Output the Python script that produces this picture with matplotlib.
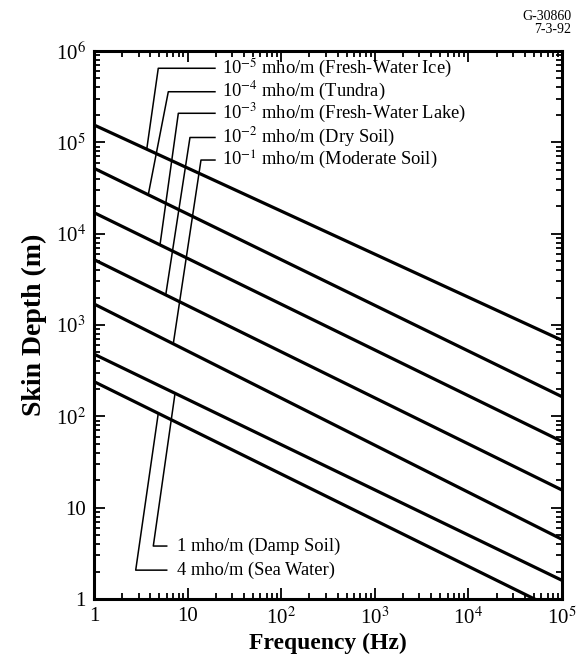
import numpy as np
import matplotlib.pyplot as plt

plt.rcParams['font.family'] = ['Liberation Serif', 'DejaVu Serif']
plt.rcParams['mathtext.fontset'] = 'stix'

# frequency end points (Hz) and skin depth (m) read at those ends
freq = [1, 1e5]
depth_ice = [1.55e5, 680]
depth_tundra = [5.2e4, 164]
depth_lake = [1.7e4, 53]
depth_dry = [5.2e3, 15.6]
depth_moderate = [1.7e3, 4.5]
depth_damp = [480, 1.6]
depth_sea = [240, 0.71]

series = [depth_ice, depth_tundra, depth_lake, depth_dry,
          depth_moderate, depth_damp, depth_sea]
labels = [r'10$^{-5}$ mho/m (Fresh-Water Ice)',
          r'10$^{-4}$ mho/m (Tundra)',
          r'10$^{-3}$ mho/m (Fresh-Water Lake)',
          r'10$^{-2}$ mho/m (Dry Soil)',
          r'10$^{-1}$ mho/m (Moderate Soil)',
          '1 mho/m (Damp Soil)',
          '4 mho/m (Sea Water)']

# leader layout: label height, corner frequency, frequency where leader meets its line
label_y = [6.47e5, 3.58e5, 2.08e5, 1.13e5, 6.4e4, 3.8, 2.07]
corner_f = [4.86, 6.22, 7.96, 10.6, 13.9, 4.3, 2.79]
touch_f = [3.66, 3.8, 5.07, 5.84, 7.03, 7.34, 4.86]
seg_end_f = [19.6] * 5 + [5.98] * 2
text_f = [23.3] * 5 + [7.7] * 2

fig = plt.figure(figsize=(5.77, 6.61), dpi=100)
ax = fig.add_axes([94 / 577, 1 - 599 / 661, 468 / 577, 548 / 661])

for d in series:
    ax.plot(freq, d, c='k', lw=2.3, solid_capstyle='butt')

lf = np.log10(freq)
for i, lab in enumerate(labels):
    ld = np.log10(series[i])
    yt = 10 ** np.interp(np.log10(touch_f[i]), lf, ld)
    ax.plot([seg_end_f[i], corner_f[i], touch_f[i]], [label_y[i], label_y[i], yt],
            c='k', lw=1.1)
    ax.text(text_f[i], label_y[i], lab, fontsize=13.3, va='center', ha='left')

ax.set_xscale('log')
ax.set_yscale('log')
ax.set_xlim(1, 1e5)
ax.set_ylim(1, 1e6)

ax.set_xticks([1, 10, 1e2, 1e3, 1e4, 1e5])
ax.set_xticklabels(['1', '10', r'10$^2$', r'10$^3$', r'10$^4$', r'10$^5$'])
ax.set_yticks([1, 10, 1e2, 1e3, 1e4, 1e5, 1e6])
ax.set_yticklabels(['1', '10', r'10$^2$', r'10$^3$', r'10$^4$', r'10$^5$', r'10$^6$'])
ax.tick_params(which='both', direction='in', top=True, right=True, labelsize=15, width=1.3)
ax.tick_params(which='major', length=8, pad=6)
ax.tick_params(which='minor', length=4)
for s in ax.spines.values():
    s.set_linewidth(2.2)

ax.set_xlabel('Frequency (Hz)', fontsize=17, fontweight='bold', labelpad=3)
ax.set_ylabel('Skin Depth (m)', fontsize=20, fontweight='bold', labelpad=6)

fig.text(0.99, 0.985, 'G-30860\n7-3-92', ha='right', va='top', fontsize=10,
         linespacing=1.0)

fig.savefig('out.png', dpi=100)
